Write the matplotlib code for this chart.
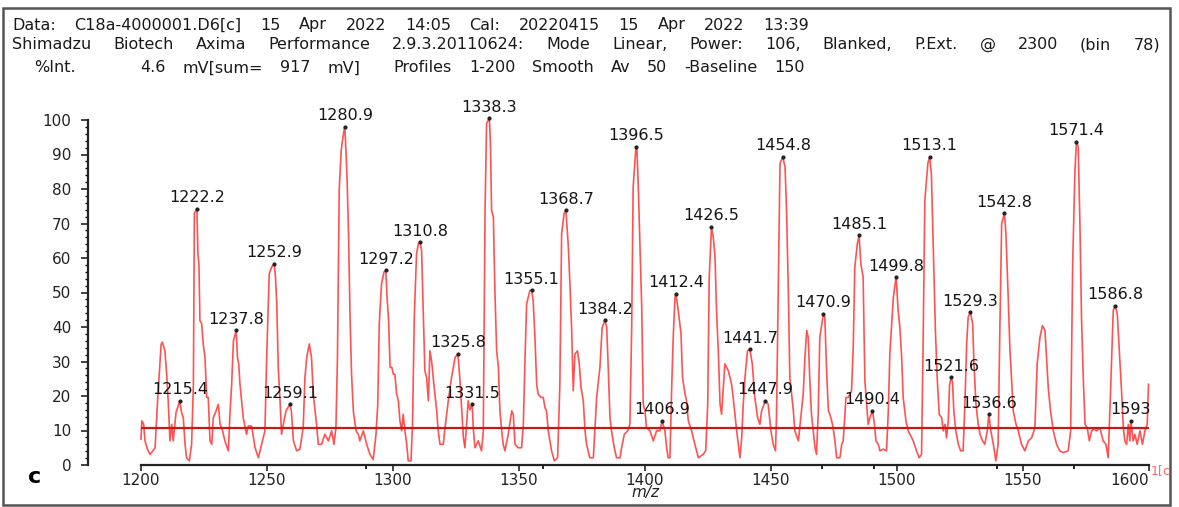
import matplotlib
matplotlib.use('Agg')
import matplotlib.pyplot as plt
import matplotlib.transforms as mtransforms
from matplotlib.patches import Rectangle
from matplotlib.ticker import MultipleLocator, FixedLocator

# spectrum trace (m/z, %Int)
mz = [1200.0, 1200.3, 1201.0, 1201.6, 1202.6, 1203.6, 1204.6, 1205.6, 1206.5, 1207.3,
      1208.0, 1208.5, 1209.5, 1210.2, 1210.8, 1211.5, 1212.2, 1212.8, 1213.9, 1215.4,
      1216.1, 1216.8, 1217.5, 1218.1, 1219.2, 1220.1, 1220.8, 1221.2, 1222.2, 1222.6,
      1223.0, 1223.4, 1224.1, 1224.7, 1225.4, 1226.1, 1226.7, 1227.4, 1228.1, 1228.7,
      1229.8, 1230.7, 1231.4, 1232.4, 1233.3, 1234.7, 1235.3, 1236.0, 1236.7, 1237.8,
      1238.3, 1238.8, 1239.3, 1240.6, 1241.9, 1242.6, 1243.9, 1245.3, 1246.6, 1247.9,
      1249.2, 1249.9, 1250.9, 1251.9, 1252.9, 1253.4, 1253.9, 1254.5, 1255.2, 1255.8,
      1256.5, 1257.6, 1259.1, 1259.7, 1260.5, 1261.8, 1263.1, 1264.4, 1265.1, 1265.8,
      1266.8, 1267.7, 1268.4, 1269.7, 1270.4, 1271.7, 1273.0, 1274.4, 1275.7, 1276.6,
      1277.4, 1278.0, 1278.7, 1279.5, 1280.2, 1280.9, 1281.3, 1281.8, 1282.4, 1283.0,
      1283.6, 1284.3, 1285.4, 1286.3, 1286.9, 1288.3, 1289.6, 1290.9, 1292.2, 1293.3,
      1294.0, 1294.6, 1295.5, 1296.5, 1297.2, 1297.7, 1298.3, 1298.9, 1299.6, 1300.2,
      1300.8, 1301.5, 1302.2, 1302.8, 1303.5, 1304.1, 1304.8, 1305.5, 1306.1, 1307.2,
      1307.8, 1308.5, 1309.4, 1310.1, 1310.8, 1311.4, 1312.1, 1312.7, 1313.4, 1314.1,
      1314.7, 1315.4, 1316.0, 1316.7, 1317.4, 1318.0, 1318.7, 1320.0, 1320.7, 1322.0,
      1323.3, 1324.7, 1325.8, 1326.6, 1327.4, 1328.0, 1328.6, 1329.3, 1329.9, 1330.6,
      1331.5, 1331.9, 1332.6, 1333.9, 1335.2, 1335.9, 1336.6, 1337.2, 1338.3, 1338.7,
      1339.2, 1339.9, 1340.5, 1341.2, 1341.9, 1342.5, 1343.2, 1343.8, 1344.5, 1345.8,
      1347.2, 1347.8, 1348.5, 1349.8, 1351.1, 1351.8, 1352.4, 1353.1, 1354.4, 1355.1,
      1355.7, 1356.4, 1357.1, 1357.7, 1358.8, 1359.7, 1360.4, 1361.0, 1361.7, 1363.0,
      1364.1, 1365.4, 1366.3, 1367.0, 1368.0, 1368.7, 1369.6, 1370.3, 1371.0, 1371.6,
      1372.3, 1373.3, 1374.0, 1374.7, 1375.6, 1376.3, 1376.9, 1378.2, 1379.6, 1380.9,
      1382.2, 1383.1, 1384.2, 1384.9, 1385.5, 1386.2, 1386.8, 1387.9, 1388.8, 1390.2,
      1390.8, 1391.9, 1393.2, 1394.1, 1394.8, 1395.4, 1396.5, 1396.9, 1397.4, 1398.1,
      1398.8, 1399.4, 1400.1, 1400.7, 1402.1, 1403.4, 1404.7, 1406.0, 1406.9, 1408.0,
      1408.7, 1409.3, 1410.0, 1410.7, 1411.3, 1412.0, 1412.4, 1413.3, 1414.4, 1415.0,
      1416.0, 1416.6, 1417.3, 1418.6, 1419.9, 1421.3, 1423.2, 1424.2, 1425.0, 1425.6,
      1426.5, 1427.2, 1427.9, 1428.5, 1429.2, 1429.9, 1430.5, 1431.2, 1431.8, 1433.2,
      1434.5, 1435.1, 1436.5, 1437.8, 1438.5, 1439.1, 1439.8, 1440.8, 1441.7, 1442.7,
      1443.7, 1444.8, 1445.7, 1446.4, 1447.9, 1449.0, 1450.1, 1451.0, 1451.9, 1452.3,
      1453.0, 1453.7, 1454.8, 1455.7, 1456.3, 1457.0, 1457.6, 1459.0, 1459.6, 1461.0,
      1462.9, 1463.6, 1464.3, 1464.9, 1465.6, 1466.2, 1466.9, 1467.6, 1468.2, 1468.9,
      1469.5, 1470.9, 1471.5, 1472.2, 1472.9, 1473.5, 1474.2, 1474.8, 1475.5, 1476.2,
      1477.5, 1478.2, 1478.8, 1479.9, 1480.8, 1482.1, 1482.8, 1483.4, 1484.4, 1485.1,
      1485.8, 1486.7, 1487.4, 1488.1, 1488.7, 1489.4, 1490.4, 1491.2, 1491.8, 1492.7,
      1493.4, 1494.7, 1496.0, 1496.7, 1497.3, 1498.7, 1499.8, 1500.6, 1501.3, 1502.0,
      1502.6, 1503.7, 1504.6, 1505.3, 1506.6, 1507.9, 1509.0, 1509.9, 1510.6, 1511.2,
      1512.4, 1513.1, 1513.8, 1514.6, 1515.4, 1516.1, 1516.9, 1517.9, 1518.5, 1519.2,
      1519.8, 1520.5, 1521.0, 1521.6, 1522.2, 1522.7, 1523.5, 1524.5, 1525.4, 1526.4,
      1527.1, 1527.8, 1528.4, 1529.3, 1530.2, 1530.7, 1531.5, 1532.4, 1533.1, 1534.1,
      1535.0, 1536.0, 1536.6, 1537.4, 1538.4, 1539.4, 1540.3, 1541.0, 1541.7, 1542.8,
      1543.4, 1544.3, 1545.0, 1545.6, 1546.3, 1547.4, 1548.3, 1549.6, 1550.9, 1552.3,
      1553.6, 1554.9, 1555.8, 1556.9, 1557.9, 1558.9, 1559.5, 1560.2, 1561.1, 1562.2,
      1563.5, 1564.8, 1566.1, 1568.1, 1569.1, 1569.9, 1570.8, 1571.4, 1572.1, 1572.8,
      1573.4, 1574.1, 1574.8, 1575.7, 1576.5, 1577.4, 1578.3, 1579.4, 1580.7, 1582.0,
      1583.1, 1584.0, 1584.9, 1586.0, 1586.8, 1587.6, 1588.4, 1589.3, 1590.0, 1590.6,
      1591.3, 1592.0, 1592.6, 1593.0, 1593.9, 1594.6, 1595.5, 1596.6, 1597.6, 1598.6,
      1599.5, 1600.0]
intensity = [7.5, 12.8, 12.0, 7.0, 4.5, 3.1, 4.0, 5.0, 17.6, 27.0,
             35.0, 35.6, 33.1, 26.3, 18.6, 7.0, 11.8, 7.0, 15.2, 18.6,
             15.2, 13.7, 6.0, 2.1, 1.2, 6.0, 23.4, 73.0, 74.3, 61.2,
             58.3, 41.9, 40.9, 35.1, 31.2, 19.6, 19.6, 7.0, 6.0, 13.7,
             15.7, 17.6, 11.8, 9.9, 7.0, 4.1, 14.7, 23.4, 36.0, 39.0,
             31.2, 29.3, 23.4, 13.7, 8.9, 11.3, 11.3, 5.0, 2.1, 6.0,
             9.9, 31.2, 55.4, 57.4, 58.3, 54.5, 46.7, 28.3, 18.6, 8.9,
             11.8, 15.7, 17.6, 15.7, 7.0, 4.1, 4.6, 10.8, 25.4, 31.2,
             35.1, 31.2, 20.5, 11.8, 6.0, 6.0, 8.9, 7.0, 9.9, 6.0,
             10.8, 31.2, 80.0, 91.3, 95.1, 98.1, 92.2, 83.5, 67.1, 42.8,
             26.3, 15.7, 9.9, 8.9, 7.0, 9.9, 6.0, 3.1, 1.6, 8.9,
             17.6, 40.9, 52.5, 56.0, 56.4, 48.6, 41.9, 28.3, 28.3, 26.3,
             26.3, 20.5, 18.6, 12.8, 9.9, 14.7, 9.9, 6.0, 1.2, 1.2,
             11.8, 42.8, 61.2, 64.1, 64.6, 62.2, 42.8, 27.3, 25.4, 18.6,
             33.1, 30.0, 25.4, 20.5, 15.7, 9.9, 6.0, 6.0, 10.8, 18.6,
             25.4, 31.2, 32.2, 25.0, 15.0, 8.0, 5.0, 12.0, 18.6, 16.0,
             17.6, 10.8, 5.0, 7.0, 4.1, 9.9, 73.8, 99.0, 100.5, 94.2,
             73.8, 71.9, 50.6, 33.1, 28.3, 15.7, 9.9, 6.0, 4.1, 8.9,
             15.7, 14.7, 6.0, 5.0, 5.0, 11.8, 29.3, 46.7, 50.6, 50.6,
             47.7, 37.0, 23.4, 20.5, 19.6, 19.6, 16.6, 15.7, 9.9, 4.1,
             1.2, 2.1, 23.4, 67.1, 73.0, 73.8, 64.1, 52.5, 39.0, 21.5,
             32.2, 33.1, 29.3, 22.5, 18.6, 9.9, 6.0, 2.1, 2.1, 19.6,
             28.3, 39.9, 41.9, 39.9, 28.3, 13.7, 9.9, 5.0, 2.1, 2.1,
             5.0, 8.9, 9.9, 11.8, 39.0, 80.6, 92.2, 91.3, 81.6, 64.1,
             45.7, 17.6, 15.7, 10.8, 9.9, 7.0, 9.9, 9.9, 12.8, 9.9,
             5.0, 2.1, 2.1, 22.5, 37.0, 48.6, 49.6, 44.8, 38.0, 25.4,
             20.5, 18.6, 12.8, 9.9, 6.0, 2.1, 3.1, 4.1, 17.6, 54.5,
             69.0, 66.1, 60.3, 44.8, 33.1, 17.6, 14.7, 22.5, 29.3, 27.3,
             23.4, 19.6, 9.9, 2.1, 7.9, 17.6, 25.4, 33.1, 33.6, 29.3,
             19.6, 13.7, 11.8, 15.7, 18.6, 17.6, 9.9, 6.0, 4.1, 13.7,
             50.6, 87.4, 89.3, 86.4, 73.8, 50.6, 25.4, 15.7, 9.9, 7.0,
             20.5, 31.2, 39.0, 37.0, 23.4, 14.7, 9.9, 5.0, 3.1, 15.7,
             37.0, 43.8, 42.8, 27.3, 15.7, 14.7, 12.8, 10.8, 7.0, 2.1,
             2.1, 6.0, 7.0, 19.6, 19.6, 21.5, 35.0, 57.4, 64.1, 66.6,
             58.3, 54.5, 24.4, 17.6, 11.8, 13.7, 15.7, 11.8, 7.0, 6.0,
             4.1, 4.6, 4.1, 15.7, 32.2, 48.6, 54.5, 44.8, 39.9, 31.2,
             19.6, 12.8, 9.9, 8.9, 7.0, 4.1, 2.1, 3.1, 39.9, 76.7,
             87.4, 89.3, 84.5, 62.2, 39.0, 25.4, 14.7, 13.7, 9.9, 11.8,
             7.9, 12.8, 23.0, 25.4, 24.0, 15.7, 9.9, 6.0, 4.1, 4.1,
             17.6, 35.0, 42.8, 44.3, 40.9, 29.3, 17.6, 11.8, 8.9, 7.0,
             6.0, 9.9, 14.7, 9.9, 6.0, 1.2, 6.0, 39.9, 70.0, 72.9,
             67.1, 48.6, 33.1, 25.4, 15.7, 11.8, 9.9, 6.0, 4.1, 7.0,
             7.9, 10.8, 29.3, 37.0, 40.4, 39.0, 31.2, 22.5, 15.7, 9.9,
             6.0, 4.1, 3.6, 4.1, 9.9, 58.3, 85.5, 93.7, 92.2, 69.0,
             42.8, 25.4, 11.8, 10.8, 7.0, 9.9, 10.4, 9.9, 10.8, 7.0,
             6.0, 2.1, 20.5, 44.8, 46.2, 43.8, 33.1, 21.5, 10.8, 7.0,
             6.0, 11.8, 7.0, 12.8, 7.0, 8.9, 6.0, 9.9, 6.0, 9.9,
             11.8, 23.4]

# labelled peaks
peak_mz = [1215.4, 1222.2, 1237.8, 1252.9, 1259.1, 1280.9, 1297.2, 1310.8, 1325.8,
           1331.5, 1338.3, 1355.1, 1368.7, 1384.2, 1396.5, 1406.9, 1412.4, 1426.5,
           1441.7, 1447.9, 1454.8, 1470.9, 1485.1, 1490.4, 1499.8, 1513.1, 1521.6,
           1529.3, 1536.6, 1542.8, 1571.4, 1586.8, 1593.0]
peak_int = [18.6, 74.3, 39.0, 58.3, 17.6, 98.1, 56.4, 64.6, 32.2,
            17.6, 100.5, 50.6, 73.8, 41.9, 92.2, 12.8, 49.6, 69.0,
            33.6, 18.6, 89.3, 43.8, 66.6, 15.7, 54.5, 89.3, 25.4,
            44.3, 14.7, 72.9, 93.7, 46.2, 12.8]
peak_labels = ['1215.4', '1222.2', '1237.8', '1252.9', '1259.1', '1280.9', '1297.2',
               '1310.8', '1325.8', '1331.5', '1338.3', '1355.1', '1368.7', '1384.2',
               '1396.5', '1406.9', '1412.4', '1426.5', '1441.7', '1447.9', '1454.8',
               '1470.9', '1485.1', '1490.4', '1499.8', '1513.1', '1521.6', '1529.3',
               '1536.6', '1542.8', '1571.4', '1586.8', '1593']

baseline_level = 10.8
x_ticks = [1200, 1250, 1300, 1350, 1400, 1450, 1500, 1550, 1600]
x_marks = [1289.5, 1359.6, 1470.3, 1491.0, 1540.0, 1570.4]

header1 = 'Data: C18a-4000001.D6[c] 15 Apr 2022 14:05 Cal: 20220415 15 Apr 2022 13:39'
header2 = ('Shimadzu Biotech Axima Performance 2.9.3.20110624: Mode Linear, '
           'Power: 106, Blanked, P.Ext. @ 2300 (bin 78)')
header3 = '4.6 mV[sum= 917 mV]  Profiles 1-200 Smooth Av 50 -Baseline 150'

W, H = 1179, 507
plt.rcParams['font.family'] = ['DejaVu Sans']
fig = plt.figure(figsize=(W / 100, H / 100), dpi=100)
renderer = fig.canvas.get_renderer()


def fx(x):
    return x / W


def fy(y):
    return 1 - y / H


def spread_text(s, x0, x1, y, size):
    # the scan prints wide letters: keep words as they are, widen the gaps
    words = s.split(' ')
    texts, widths = [], []
    for w in words:
        t = fig.text(0, fy(y), w, fontsize=size, va='center', ha='left', color='#1a1a1a')
        texts.append(t)
        widths.append(t.get_window_extent(renderer).width if w else 0.0)
    gap = (x1 - x0 - sum(widths)) / (len(words) - 1)
    x = x0
    for t, wd in zip(texts, widths):
        t.set_x(fx(x))
        x += wd + gap


# outer frame
fig.patches.append(Rectangle((fx(3), fy(505)), fx(1170) - fx(3), fy(8) - fy(505),
                             transform=fig.transFigure, fill=False,
                             edgecolor='#555555', linewidth=1.8))

ax = fig.add_axes([fx(88), fy(465), fx(1148.5) - fx(88), fy(120) - fy(465)])
ax.set_xlim(1178.96, 1600)
ax.set_ylim(0, 100)

ax.plot(mz, intensity, color='#ff5252', linewidth=1.2, clip_on=False, zorder=3)
ax.hlines(baseline_level, 1200, 1600, color='#c81818', linewidth=1.6, zorder=4)
ax.plot(peak_mz, peak_int, 'o', color='#222222', markersize=2, zorder=5, clip_on=False)
for m, v, lab in zip(peak_mz, peak_int, peak_labels):
    ax.annotate(lab, (m, v), xytext=(0, 2.5), textcoords='offset points',
                ha='center', va='bottom', fontsize=11.5, color='#151515',
                annotation_clip=False, zorder=6)

for s in ['top', 'right']:
    ax.spines[s].set_visible(False)
ax.spines['bottom'].set_bounds(1200, 1600)
for s in ['bottom', 'left']:
    ax.spines[s].set_linewidth(1.6)
    ax.spines[s].set_color('#222222')

ax.xaxis.set_major_locator(FixedLocator(x_ticks))
ax.xaxis.set_minor_locator(FixedLocator(x_marks))
ax.yaxis.set_major_locator(MultipleLocator(10))
ax.yaxis.set_minor_locator(MultipleLocator(2))
ax.tick_params(axis='x', which='major', length=4, width=1.2, pad=1.5, labelsize=11,
               colors='#222222')
ax.tick_params(axis='x', which='minor', length=3, width=1.2)
ax.tick_params(axis='y', which='major', length=5, width=1.2, pad=7, labelsize=11,
               colors='#222222')
ax.tick_params(axis='y', which='minor', length=2.5, width=1)

# last x label sits left of its tick, end y labels pulled inward as in the scan
xt = ax.xaxis.get_major_ticks()
xt[-1].label1.set_horizontalalignment('right')
yt = ax.yaxis.get_major_ticks()
yt[0].label1.set_transform(yt[0].label1.get_transform() +
                           mtransforms.ScaledTranslation(0, 0.08, fig.dpi_scale_trans))
yt[-1].label1.set_transform(yt[-1].label1.get_transform() +
                            mtransforms.ScaledTranslation(0, -0.04, fig.dpi_scale_trans))

# header
spread_text(header1, 12, 809, 25, 11.5)
spread_text(header2, 12, 1160, 44.5, 11.5)
fig.text(fx(34), fy(68), '%Int.', fontsize=11.5, va='center', ha='left', color='#1a1a1a')
spread_text(header3, 140, 805, 68, 11.5)

fig.text(fx(28), fy(477), 'c', fontsize=16, fontweight='bold', va='center', ha='left')
fig.text(fx(645), fy(493), 'm/z', fontsize=11, style='italic', va='center', ha='center',
         color='#222222')
fig.text(fx(1151), fy(471), '1[c', fontsize=9, va='center', ha='left', color='#ff6666')

fig.savefig('out.png', dpi=100)
